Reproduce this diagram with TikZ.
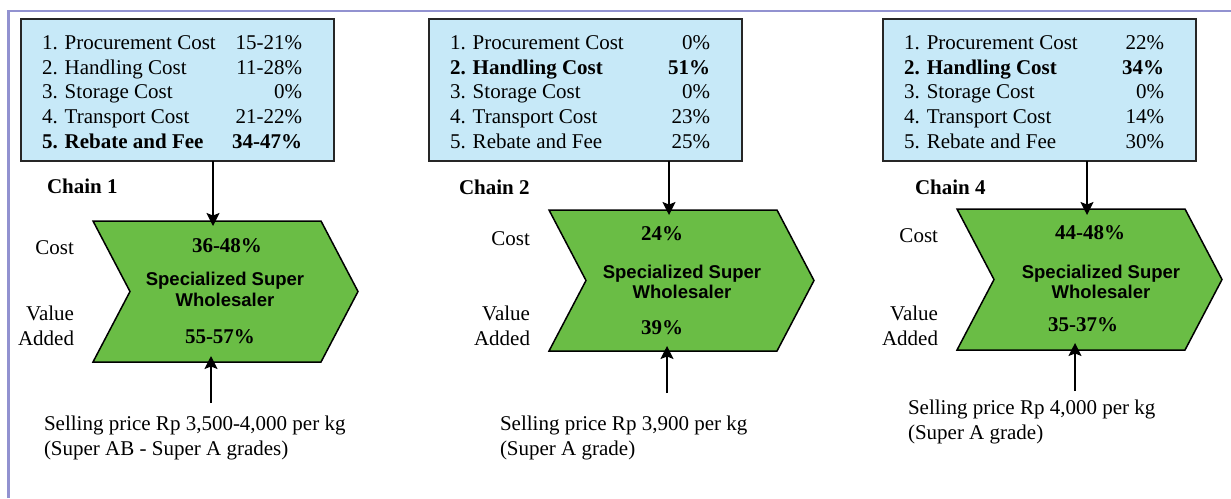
\documentclass[tikz,border=0pt]{standalone}
\usepackage{fontspec}
\setmainfont{Liberation Serif}
\setsansfont{Liberation Sans}
\usetikzlibrary{arrows.meta}
\definecolor{frameC}{RGB}{146,146,208}
\definecolor{boxC}{RGB}{199,233,248}
\definecolor{greenC}{RGB}{106,189,69}
\newcommand\rowtxt[2]{\makebox[190pt][l]{#1}\makebox[70pt][r]{#2}}
\begin{document}
\begin{tikzpicture}[x=1pt,y=-1pt,
  every node/.style={inner sep=0pt, outer sep=0pt},
  txt/.style={font=\fontsize{21}{25}\selectfont},
  boxtxt/.style={font=\fontsize{21}{24.7}\selectfont, align=left, anchor=west},
  costbox/.style={draw=black!85, line width=1.8pt, fill=boxC, minimum width=313pt, minimum height=142pt},
  chevstyle/.style={draw=black, line width=1.5pt, fill=greenC, line join=miter},
  chev/.pic={\path[chevstyle] (0,0) -- (228,0) -- (265,70.5) -- (228,141) -- (0,141) -- (37,70.5) -- cycle;},
  pct/.style={font=\bfseries\fontsize{21}{25}\selectfont},
  spec/.style={font=\sffamily\bfseries\fontsize{18.5}{20.7}\selectfont, align=center},
  lbl/.style={txt, align=right, anchor=east},
  chainlbl/.style={font=\bfseries\fontsize{21}{25}\selectfont, anchor=west},
  sell/.style={txt, align=left, anchor=west},
  arr/.style={line width=1.5pt, -{Stealth[length=13pt,width=13pt,inset=2.5pt]}},
  frame/.style={draw=frameC, line width=2.5pt}
]
\useasboundingbox (0,0) rectangle (1231,498);
\draw[frame] (8.5,498) -- (8.5,11) -- (1231,11);

% ---------- Chain 1 ----------
\node[costbox] (b1) at (177.5,90) {};
\node[boxtxt] (b1t) at (42,92) {\rowtxt{1. Procurement Cost}{15-21\%}\\
\rowtxt{2. Handling Cost}{11-28\%}\\
\rowtxt{3. Storage Cost}{0\%}\\
\rowtxt{4. Transport Cost}{21-22\%}\\
\rowtxt{\textbf{5. Rebate and Fee}}{\textbf{34-47\%}}};
\node[chainlbl] (ch1) at (47,186) {Chain 1};
\pic at (93,221) {chev};
\node[lbl] (cost1) at (74,248) {Cost};
\node[lbl] (va1) at (74,325.5) {Value\\Added};
\node[pct] (p1a) at (227,246) {36-48\%};
\node[spec] (s1) at (225,289.5) {Specialized Super\\Wholesaler};
\node[pct] (p1b) at (220,337) {55-57\%};
\node[sell] (sp1) at (44,437.5) {Selling price Rp 3,500-4,000 per kg\\(Super AB - Super A grades)};
\coordinate (t1) at (213,226);
\coordinate (u1) at (211,356);
\coordinate (u1s) at (211,403);
\draw[arr] (b1.south -| t1) -- (t1);
\draw[arr] (u1s) -- (u1);

% ---------- Chain 2 ----------
\node[costbox] (b2) at (585.5,90) {};
\node[boxtxt] (b2t) at (450,92) {\rowtxt{1. Procurement Cost}{0\%}\\
\rowtxt{\textbf{2. Handling Cost}}{\textbf{51\%}}\\
\rowtxt{3. Storage Cost}{0\%}\\
\rowtxt{4. Transport Cost}{23\%}\\
\rowtxt{5. Rebate and Fee}{25\%}};
\node[chainlbl] (ch2) at (459,187) {Chain 2};
\pic at (549,210) {chev};
\node[lbl] (cost2) at (530,239) {Cost};
\node[lbl] (va2) at (530,325.5) {Value\\Added};
\node[pct] (p2a) at (662,234) {24\%};
\node[spec] (s2) at (682,282) {Specialized Super\\Wholesaler};
\node[pct] (p2b) at (662,328) {39\%};
\node[sell] (sp2) at (500,437.5) {Selling price Rp 3,900 per kg\\(Super A grade)};
\coordinate (t2) at (669,215);
\coordinate (u2) at (667,346);
\coordinate (u2s) at (667,393);
\draw[arr] (b2.south -| t2) -- (t2);
\draw[arr] (u2s) -- (u2);

% ---------- Chain 4 ----------
\node[costbox] (b3) at (1039.5,90) {};
\node[boxtxt] (b3t) at (904,92) {\rowtxt{1. Procurement Cost}{22\%}\\
\rowtxt{\textbf{2. Handling Cost}}{\textbf{34\%}}\\
\rowtxt{3. Storage Cost}{0\%}\\
\rowtxt{4. Transport Cost}{14\%}\\
\rowtxt{5. Rebate and Fee}{30\%}};
\node[chainlbl] (ch3) at (915,187) {Chain 4};
\pic at (957,209) {chev};
\node[lbl] (cost3) at (938,236) {Cost};
\node[lbl] (va3) at (938,325.5) {Value\\Added};
\node[pct] (p3a) at (1090,233) {44-48\%};
\node[spec] (s3) at (1101,282) {Specialized Super\\Wholesaler};
\node[pct] (p3b) at (1083,325) {35-37\%};
\node[sell] (sp3) at (908,421.5) {Selling price Rp 4,000 per kg\\(Super A grade)};
\coordinate (t3) at (1087,215);
\coordinate (u3) at (1075,343);
\coordinate (u3s) at (1075,391);
\draw[arr] (b3.south -| t3) -- (t3);
\draw[arr] (u3s) -- (u3);
\end{tikzpicture}
\end{document}
